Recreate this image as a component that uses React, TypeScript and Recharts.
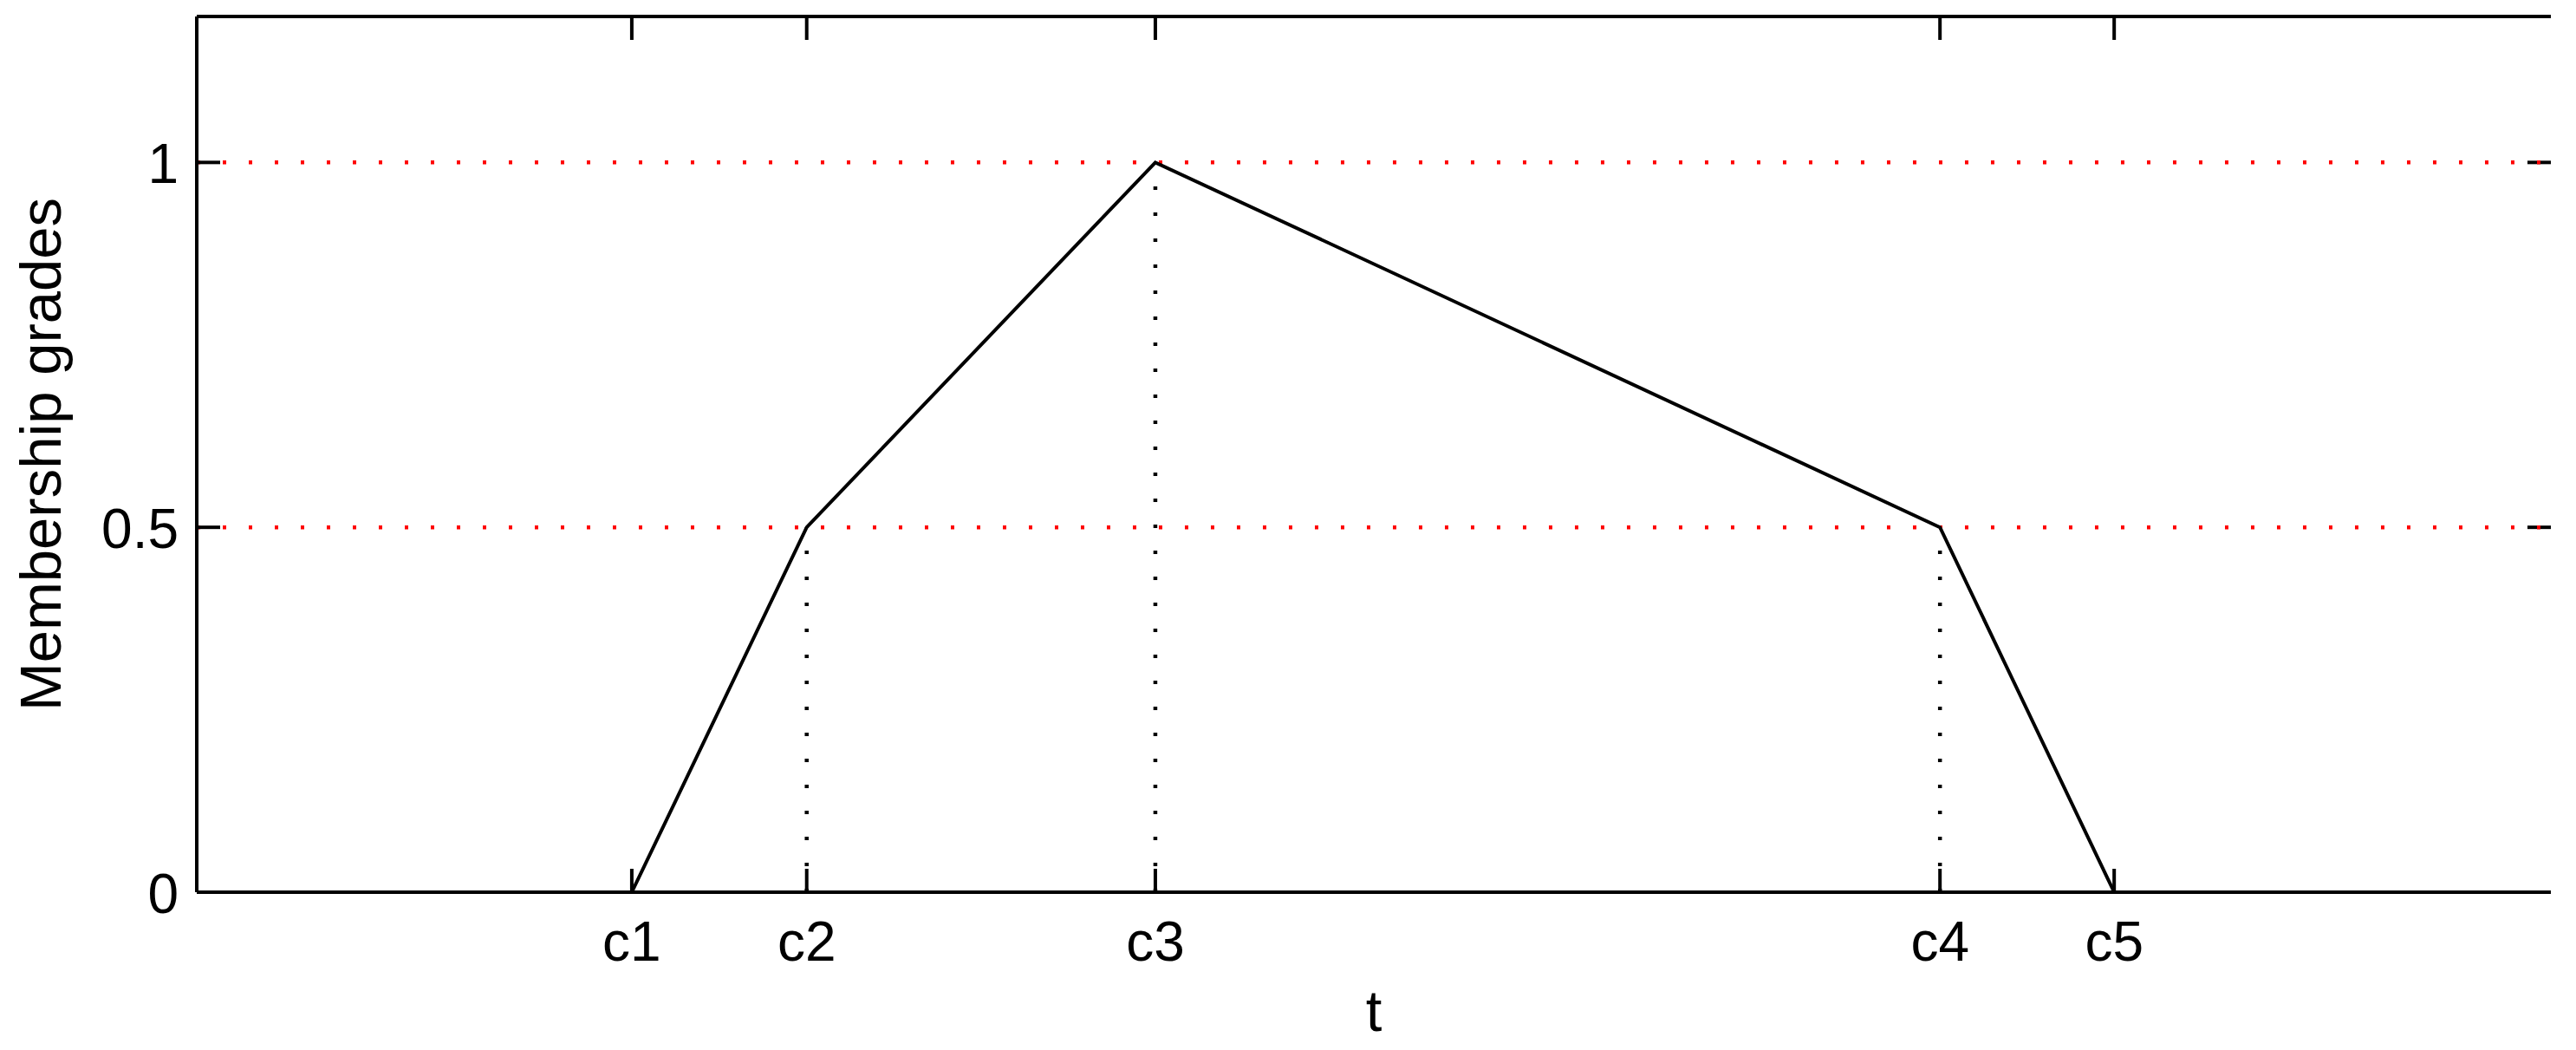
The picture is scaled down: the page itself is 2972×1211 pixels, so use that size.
import React from 'react';
import { LineChart, Line, XAxis, YAxis, ReferenceLine } from 'recharts';

// ---- data ----
const tickLabels = ['c1', 'c2', 'c3', 'c4', 'c5'];
const tValues = [0.1848, 0.2591, 0.4072, 0.7405, 0.8145];
const grades = [0, 0.5, 1, 0.5, 0];
const yTicks = [0, 0.5, 1];
const yTickLabels = ['0', '0.5', '1'];
const guideLevels = [1, 0.5];
const xDomain = [0, 1];
const yDomain = [0, 1.2];
const xTitle = 't';
const yTitle = 'Membership grades';

const data = tValues.map((t, i) => ({ t, g: grades[i] }));
const xLabelFor = (v: number) => {
  const i = tValues.indexOf(v);
  return i >= 0 ? tickLabels[i] : '';
};
const yLabelFor = (v: number) => {
  const i = yTicks.indexOf(v);
  return i >= 0 ? yTickLabels[i] : String(v);
};

const FONT = '"Liberation Sans", Arial, Helvetica, sans-serif';
const FS = 64;
const TFS = 67;
const AXW = 4;
const TICKLEN = 27;

const BottomTick = (props: any) => {
  const { x, y, payload } = props;
  return (
    <g>
      <line x1={x} x2={x} y1={y} y2={y - TICKLEN} stroke="#000" strokeWidth={AXW} />
      <text x={x} y={y + 79} textAnchor="middle" fontSize={FS} fontFamily={FONT} fill="#000">
        {xLabelFor(payload.value)}
      </text>
    </g>
  );
};

const LeftTick = (props: any) => {
  const { x, y, payload } = props;
  return (
    <g>
      <line x1={x} x2={x + TICKLEN} y1={y} y2={y} stroke="#000" strokeWidth={AXW} />
      <text x={x - 21} y={y + 24} textAnchor="end" fontSize={FS} fontFamily={FONT} fill="#000">
        {yLabelFor(payload.value)}
      </text>
    </g>
  );
};

const EmptyTick = () => <g />;

// top-edge tick: draws only the top TICKLEN px of a vertical reference line
const TopTickShape = (p: any) => {
  const top = Math.min(Number(p.y1), Number(p.y2));
  return <line x1={p.x1} x2={p.x1} y1={top} y2={top + TICKLEN} stroke="#000" strokeWidth={AXW} />;
};

// right-edge tick: draws only the right TICKLEN px of a horizontal reference line
const RightTickShape = (p: any) => {
  const right = Math.max(Number(p.x1), Number(p.x2));
  return <line x1={right} x2={right - TICKLEN} y1={p.y1} y2={p.y1} stroke="#000" strokeWidth={AXW} />;
};

// full-width solid border line at the top of the plot
const BorderShape = (p: any) => (
  <line x1={p.x1} x2={p.x2} y1={p.y1} y2={p.y2} stroke="#000" strokeWidth={AXW} />
);

const YTitle = (props: any) => {
  const { viewBox } = props;
  const cx = viewBox.x + 70;
  const cy = viewBox.y + viewBox.height / 2;
  return (
    <text
      x={cx}
      y={cy}
      transform={`rotate(-90, ${cx}, ${cy})`}
      textAnchor="middle"
      fontSize={TFS}
      fontFamily={FONT}
      fill="#000"
    >
      {yTitle}
    </text>
  );
};

const XTitle = (props: any) => {
  const { viewBox } = props;
  const cx = viewBox.x + viewBox.width / 2;
  return (
    <text x={cx} y={viewBox.y + 160} textAnchor="middle" fontSize={TFS} fontFamily={FONT} fill="#000">
      {xTitle}
    </text>
  );
};

export default function App() {
  return (
    <div style={{ position: 'absolute', left: 0, top: 0, width: 2972, height: 1211, background: '#fff' }}>
      <LineChart
        width={2972}
        height={1211}
        data={data}
        margin={{ top: 19, right: 29, left: 0, bottom: 0 }}
      >
        <XAxis
          dataKey="t"
          type="number"
          domain={xDomain}
          ticks={tValues}
          interval={0}
          height={182}
          tickSize={0}
          tickMargin={0}
          tickLine={false}
          axisLine={{ stroke: '#000', strokeWidth: AXW }}
          tick={<BottomTick />}
          label={<XTitle />}
        />
        <XAxis
          xAxisId="top"
          orientation="top"
          dataKey="t"
          type="number"
          domain={xDomain}
          ticks={tValues}
          interval={0}
          height={0}
          tickSize={0}
          tickMargin={0}
          tickLine={false}
          tick={<EmptyTick />}
          axisLine={{ stroke: '#000', strokeWidth: AXW }}
        />
        <YAxis
          type="number"
          domain={yDomain}
          ticks={yTicks}
          interval={0}
          width={227}
          tickSize={0}
          tickMargin={0}
          tickLine={false}
          axisLine={{ stroke: '#000', strokeWidth: AXW }}
          tick={<LeftTick />}
          label={<YTitle />}
        />
        <YAxis
          yAxisId="right"
          orientation="right"
          type="number"
          domain={yDomain}
          ticks={yTicks}
          interval={0}
          width={0}
          tickSize={0}
          tickMargin={0}
          tickLine={false}
          tick={<EmptyTick />}
          axisLine={{ stroke: '#000', strokeWidth: AXW }}
        />
        <ReferenceLine y={yDomain[1]} stroke="#000" shape={BorderShape} />
        {tValues.map((t, i) => (
          <ReferenceLine key={`tt${i}`} x={t} stroke="#000" shape={TopTickShape} />
        ))}
        {yTicks.map((v, i) => (
          <ReferenceLine key={`rt${i}`} y={v} stroke="#000" shape={RightTickShape} />
        ))}
        {data
          .filter((d) => d.g > 0)
          .map((d, i) => (
            <ReferenceLine
              key={`v${i}`}
              segment={[
                { x: d.t, y: 0 },
                { x: d.t, y: d.g },
              ]}
              stroke="#000"
              strokeWidth={4.5}
              strokeDasharray="4 26"
            />
          ))}
        {guideLevels.map((lv, i) => (
          <ReferenceLine
            key={`h${i}`}
            y={lv}
            stroke="#ff0000"
            strokeWidth={4.5}
            strokeDasharray="4 26"
          />
        ))}
        <Line
          type="linear"
          dataKey="g"
          stroke="#000"
          strokeWidth={4}
          dot={false}
          activeDot={false}
          isAnimationActive={false}
        />
      </LineChart>
    </div>
  );
}
